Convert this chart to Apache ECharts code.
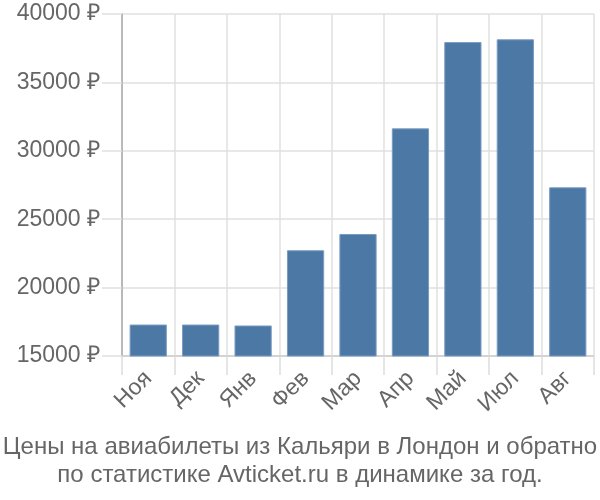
<!DOCTYPE html>
<html><head><meta charset="utf-8">
<script src="https://cdn.jsdelivr.net/npm/echarts@6/dist/echarts.min.js"></script>
<style>html,body{margin:0;padding:0;background:#fff}#c{width:600px;height:500px}</style>
</head><body><div id="c"></div>
<script>
const categories = ['Ноя','Дек','Янв','Фев','Мар','Апр','Май','Июл','Авг'];
const prices = [17300, 17300, 17230, 22730, 23920, 31640, 37950, 38150, 27330];
const yMin = 15000, yMax = 40000, yStep = 5000;
const titleLines = ['Цены на авиабилеты из Кальяри в Лондон и обратно','по статистике Avticket.ru в динамике за год.'];

const FONT = 'Liberation Sans';
const chart = echarts.init(document.getElementById('c'));
chart.setOption({
  animation: false,
  title: {
    text: titleLines.join('\n'),
    left: 'center', bottom: 6,
    textStyle: { fontFamily: FONT, fontSize: 24, fontWeight: 'normal', color: '#666', lineHeight: 28 }
  },
  grid: { left: 122, right: 6, top: 14, bottom: 144, containLabel: false },
  xAxis: {
    type: 'category', data: categories,
    axisLine: { show: true, lineStyle: { color: '#ccc', width: 1.5 } },
    axisTick: { show: true, length: 19, lineStyle: { color: '#ddd', width: 1.5 } },
    splitLine: { show: true, lineStyle: { color: '#e0e0e0', width: 1.5 } },
    axisLabel: { rotate: 45, margin: 19, fontFamily: FONT, fontSize: 23, color: '#666' }
  },
  yAxis: {
    type: 'value', min: yMin, max: yMax, interval: yStep,
    axisLine: { show: true, lineStyle: { color: '#aaa', width: 1.5 } },
    axisTick: { show: true, length: 20, lineStyle: { color: '#e0e0e0', width: 1.5 } },
    splitLine: { show: true, lineStyle: { color: '#e0e0e0', width: 1.5 } },
    axisLabel: { margin: 22, fontFamily: FONT, fontSize: 23, color: '#666', formatter: v => v + ' ₽' }
  },
  series: [{
    type: 'bar', data: prices, barCategoryGap: '29%',
    itemStyle: { color: '#4c78a6', borderColor: '#7a9cc2', borderWidth: 1 }
  }]
});
</script></body></html>
